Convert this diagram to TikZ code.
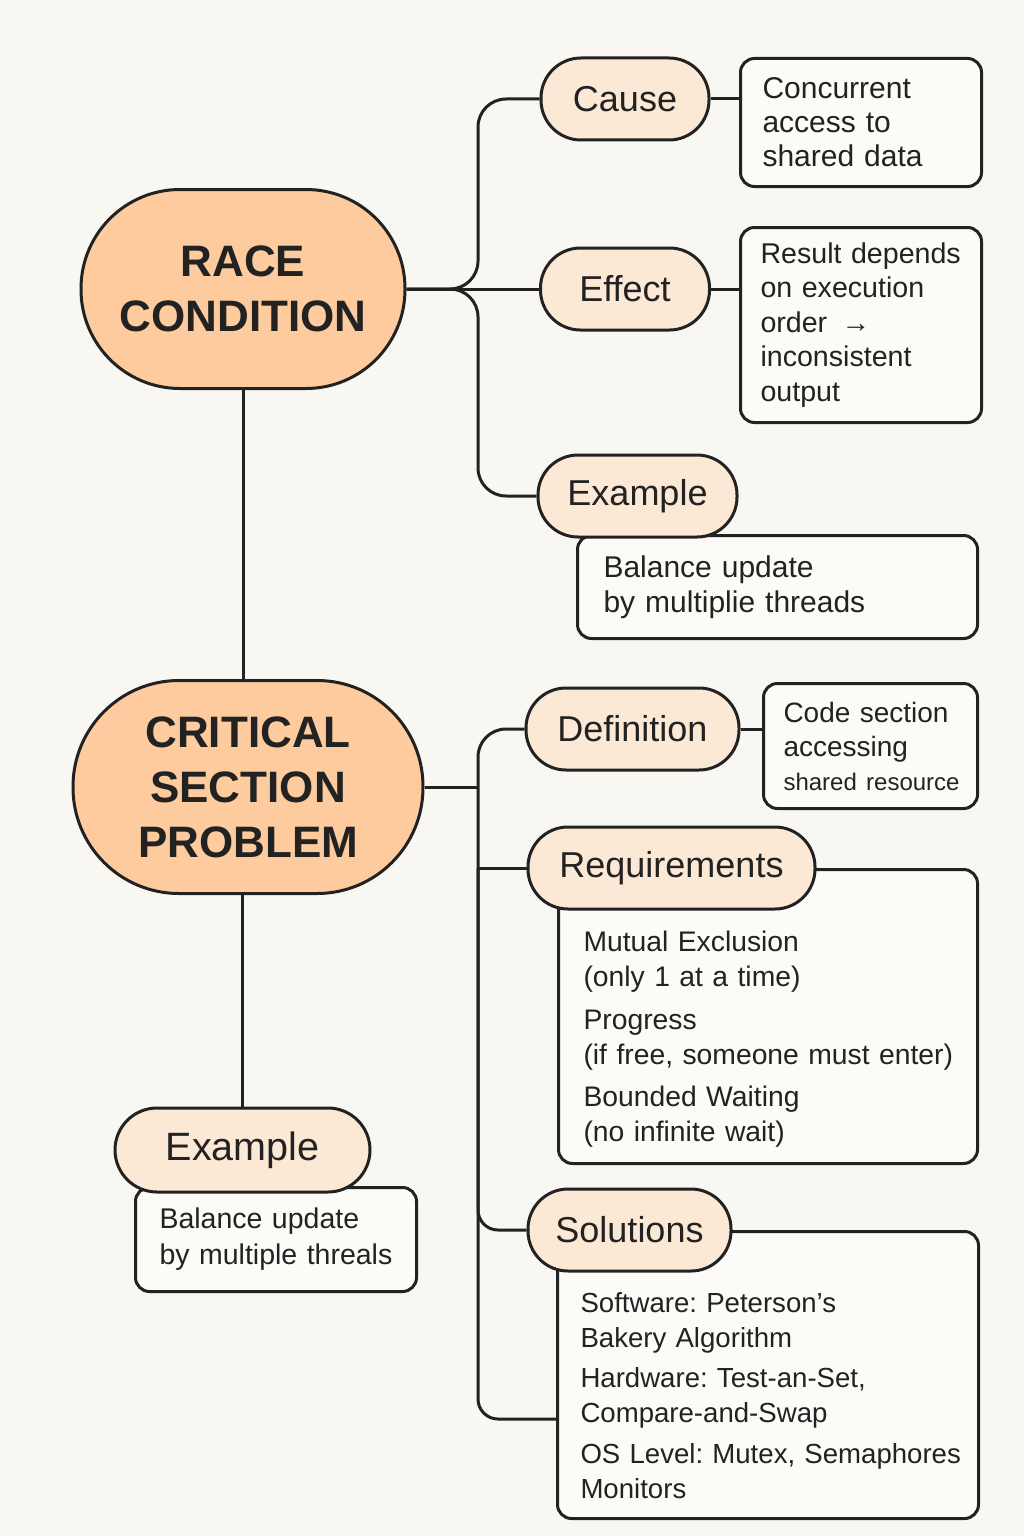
\documentclass[tikz,border=0pt]{standalone}
\usepackage{fontspec}
\setmainfont{Liberation Sans}
\usetikzlibrary{positioning, calc}

\definecolor{bgcol}{HTML}{F9F7F2}
\definecolor{mainfill}{HTML}{FDCB9D}
\definecolor{pillfill}{HTML}{FCE9D5}
\definecolor{boxfill}{HTML}{FCFBF8}
\definecolor{inkcol}{HTML}{222222}

\tikzset{
  mainnode/.style={draw=inkcol, fill=mainfill, line width=3pt, align=center, text=inkcol,
    font=\bfseries\fontsize{44}{55}\selectfont},
  pill/.style={draw=inkcol, fill=pillfill, line width=3pt, text=inkcol, rounded corners=40pt,
    minimum height=82pt, font=\fontsize{36}{40}\selectfont},
  infobox/.style={draw=inkcol, fill=boxfill, line width=3pt, rounded corners=14pt,
    anchor=north west, align=left, text=inkcol, inner xsep=22pt,
    execute at begin node={\frenchspacing\hyphenpenalty=10000\exhyphenpenalty=10000}},
  edgeline/.style={draw=inkcol, line width=3pt},
}

\begin{document}
\begin{tikzpicture}[x=1pt, y=-1pt]
                  \useasboundingbox (0,0) rectangle (1024,1536);
                  \fill[bgcol] (0,0) rectangle (1024,1536);

                  % Boxes
                  \node[infobox, minimum width=241pt, minimum height=128pt, text width=197pt,
                        font=\fontsize{30}{34}\selectfont] (causebox) at (739,57)
                        {Concurrent\\ access to\\ shared data};
                  \node[infobox, inner xsep=20pt, minimum width=241pt, minimum height=195pt, text width=201pt,
                        font=\fontsize{28.6}{34.5}\selectfont] (effectbox) at (739,226)
                        {\mbox{Result depends}\\ on execution\\ order \,→\\ inconsistent\\ output};
                  \node[infobox, inner xsep=26pt, minimum width=400pt, minimum height=103pt, text width=348pt,
                        font=\fontsize{30}{35}\selectfont] (rexbox) at (576,534)
                        {Balance update\\ by multiplie threads};
                  \node[infobox, inner xsep=20pt, minimum width=214pt, minimum height=125pt, text width=174pt,
                        font=\fontsize{28}{34}\selectfont] (defbox) at (762,682)
                        {Code section\\ accessing\\ \mbox{\fontsize{24}{34}\selectfont shared resource}};
                  \node[infobox, inner xsep=25pt, minimum width=419pt, minimum height=294pt, text width=369pt,
                        text height=68pt, text depth=198pt,
                        font=\fontsize{28.3}{34.5}\selectfont] (reqbox) at (557,868)
                        {Mutual Exclusion\\ (only 1 at a time)\\[9pt] Progress\\ \mbox{(if free, someone must enter)}\\[8pt]
                         Bounded Waiting\\ (no infinite wait)};
                  \node[infobox, inner xsep=23pt, minimum width=421pt, minimum height=287pt, text width=375pt,
                        text height=71pt, text depth=196pt,
                        font=\fontsize{27.6}{35}\selectfont] (solbox) at (556,1230)
                        {Software: Peterson’s\\ Bakery Algorithm\\[5pt] Hardware: Test-an-Set,\\ Compare-and-Swap\\[6pt]
                         \mbox{OS Level: Mutex, Semaphores}\\ Monitors};
                  \node[infobox, inner xsep=24pt, minimum width=281pt, minimum height=104pt, text width=233pt,
                        font=\fontsize{28.5}{36}\selectfont] (cexbox) at (134,1186)
                        {Balance update\\ \mbox{by multiple threals}};

                  % Pills
                  \foreach \name/\pos/\w/\txt in {cause/{625,99}/168/Cause, effect/{625,289}/169/Effect,
                          rexample/{637.5,496}/199/Example, definition/{632.5,729}/213/Definition,
                          requirements/{671.5,868}/287/Requirements, solutions/{629.5,1230}/203/Solutions}
                  \node[pill, minimum width=\w pt] (\name) at (\pos) {\txt};
                  \node[pill, minimum width=255pt, minimum height=84pt, rounded corners=42pt,
                        font=\fontsize{39.5}{44}\selectfont] (cexample) at (242.5,1150) {Example};

                  % Main topics
                  \node[mainnode, minimum width=324pt, minimum height=199pt, rounded corners=99pt] (race) at (243,289)
                        {RACE\\ CONDITION};
                  \node[mainnode, minimum width=350pt, minimum height=213pt, rounded corners=106pt] (critical) at (248,787)
                        {CRITICAL\\ SECTION\\ PROBLEM};

                  % Lines
                  \coordinate (rjoin) at (478,289);
                  \coordinate (cjoin) at (478,787);
                  \draw[edgeline] (race.south) -- (race.south |- critical.north);
                  \draw[edgeline] (cexample.north |- critical.south) -- (cexample.north);
                  \draw[edgeline] (race.east) -- (effect.west);
                  \draw[edgeline] (cause.west) [rounded corners=28pt] -| (rjoin) [rounded corners=16pt] -- (race.east);
                  \draw[edgeline] (rexample.west) [rounded corners=28pt] -| (rjoin) [rounded corners=16pt] -- (race.east);
                  \foreach \p/\b in {cause/causebox, effect/effectbox, definition/defbox}
                  \draw[edgeline] (\p.east) -- (\p.east -| \b.west);
                  \draw[edgeline] (critical.east) -- (cjoin);
                  \draw[edgeline] (definition.west) [rounded corners=28pt] -| (cjoin)
                        [rounded corners=20pt] |- ([yshift=-44pt]solbox.west);
                  \draw[edgeline] (requirements.west) -- (requirements.west -| cjoin);
                  \draw[edgeline, rounded corners=20pt] (cjoin |- requirements.west) |- (solutions.west);
              \end{tikzpicture}
\end{document}
